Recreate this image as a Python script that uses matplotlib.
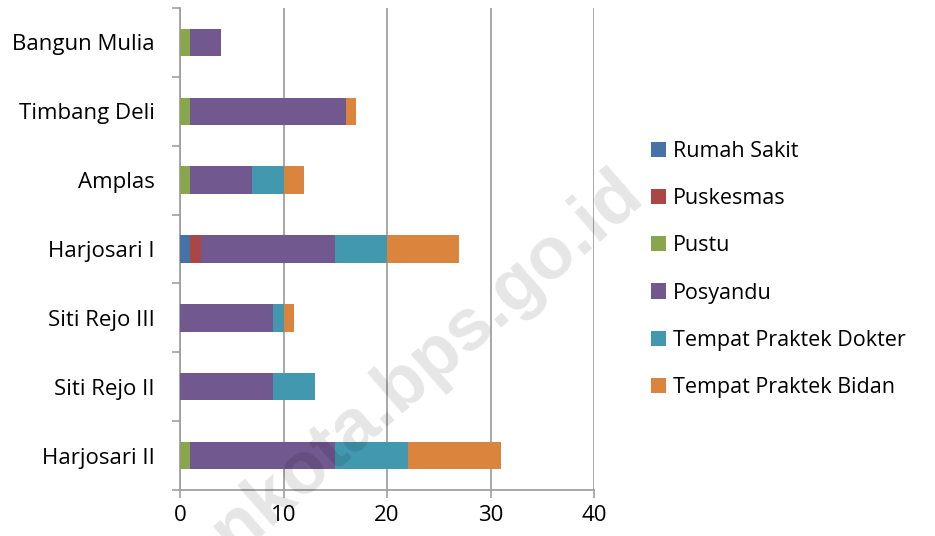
import matplotlib.pyplot as plt
import numpy as np

plt.rcParams['font.family'] = ['Open Sans', 'DejaVu Sans']

categories = ['Harjosari II', 'Siti Rejo II', 'Siti Rejo III', 'Harjosari I',
              'Amplas', 'Timbang Deli', 'Bangun Mulia']
series = ['Rumah Sakit', 'Puskesmas', 'Pustu', 'Posyandu',
          'Tempat Praktek Dokter', 'Tempat Praktek Bidan']
rumah_sakit = [0, 0, 0, 1, 0, 0, 0]
puskesmas = [0, 0, 0, 1, 0, 0, 0]
pustu = [1, 0, 0, 0, 1, 1, 1]
posyandu = [14, 9, 9, 13, 6, 15, 3]
praktek_dokter = [7, 4, 1, 5, 3, 0, 0]
praktek_bidan = [9, 0, 1, 7, 2, 1, 0]
colors = ['#4572A7', '#AA4643', '#89A54E', '#71588F', '#4198AF', '#DB843D']

data = np.array([rumah_sakit, puskesmas, pustu, posyandu, praktek_dokter, praktek_bidan], dtype=float)

fig = plt.figure(figsize=(9.35, 5.36), dpi=100)
ax = fig.add_axes([180 / 935, 1 - 490 / 536, 414 / 935, 482 / 536])

y = np.arange(len(categories))
left = np.zeros(len(categories))
for vals, name, c in zip(data, series, colors):
    ax.barh(y, vals, 0.4, left=left, color=c, label=name, zorder=3)
    left += vals

ax.set_xlim(0, 40)
ax.set_ylim(-0.5, len(categories) - 0.5)
ax.set_xticks([0, 10, 20, 30, 40])
ax.set_yticks(y)
ax.set_yticklabels(categories)
ax.set_yticks(np.arange(-0.5, len(categories), 1), minor=True)
ax.tick_params(axis='y', which='major', length=0, pad=18, labelsize=16)
ax.tick_params(axis='y', which='minor', length=6, width=1.2, color='#a0a0a0')
ax.tick_params(axis='x', length=6, width=1.2, color='#a0a0a0', labelsize=16, pad=5)
ax.grid(True, axis='x', color='#a0a0a0', lw=1.3, zorder=0)
for s in ['top', 'right']:
    ax.spines[s].set_visible(False)
for s in ['left', 'bottom']:
    ax.spines[s].set_color('#a0a0a0')
    ax.spines[s].set_linewidth(1.3)

fig.legend(loc='upper left', bbox_to_anchor=(640 / 935, 1 - 130 / 536),
           frameon=False, fontsize=15.5, handlelength=0.7, handleheight=0.7,
           handletextpad=0.35, labelspacing=1.22, borderpad=0)

# watermark, cut off at the bottom edge like the original
fig.text(354 / 935, 1 - 425 / 536, 'medankota.bps.go.id', rotation=41, ha='center', va='center',
         family='Liberation Sans', fontsize=53, fontweight='bold', color='black', alpha=0.1, zorder=10)

fig.savefig('out.png', dpi=100)
